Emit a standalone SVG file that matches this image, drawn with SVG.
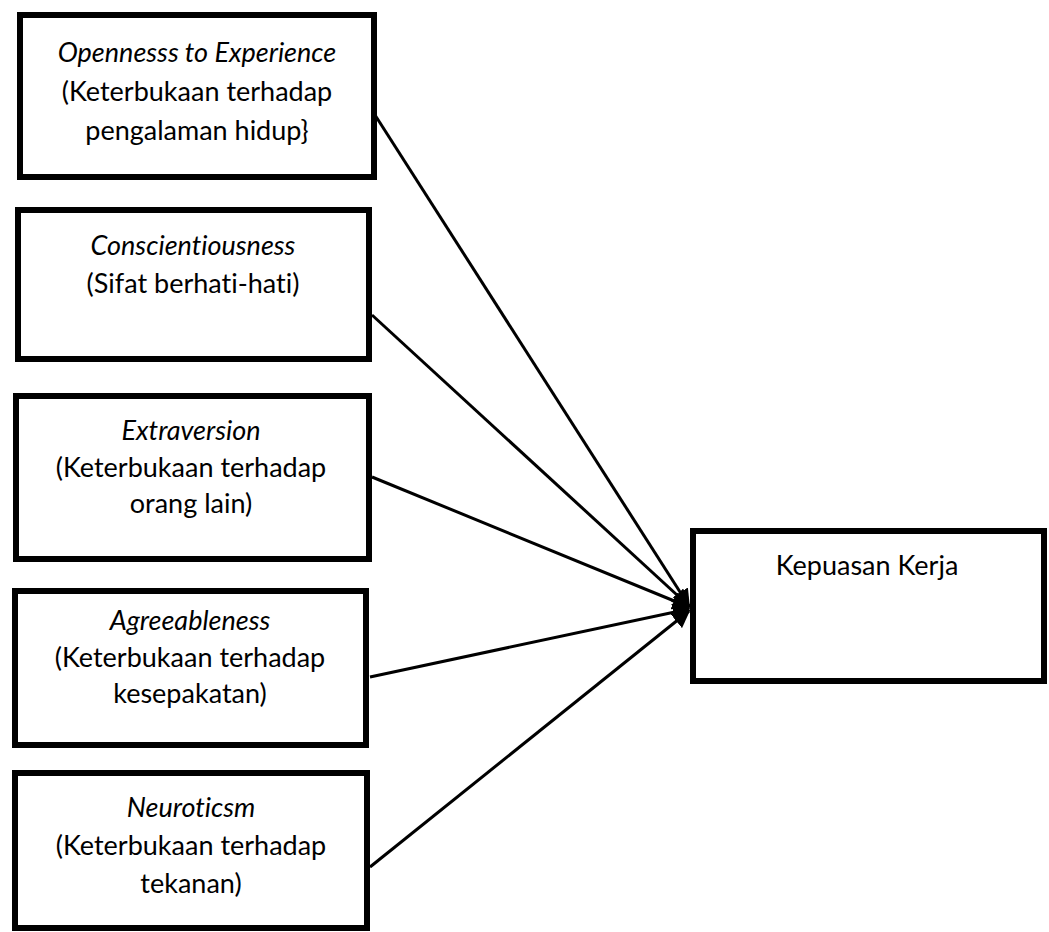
<svg xmlns="http://www.w3.org/2000/svg" width="1049" height="932" viewBox="0 0 1049 932">
<style>
.box{fill:#fff;stroke:#000;stroke-width:6}
.t{font-family:Lato,"Liberation Sans",sans-serif;font-size:27px;fill:#000;text-anchor:middle;font-variant-ligatures:none;font-feature-settings:"liga" 0}
.i{font-style:italic}
.c{stroke:#000;stroke-width:3;fill:none;marker-end:url(#ah)}
</style>
<defs>
<marker id="ah" viewBox="0 0 10 10" refX="9" refY="5" markerWidth="6" markerHeight="6" orient="auto" markerUnits="strokeWidth">
<path d="M0,0 L10,5 L0,10 z" fill="#000"/>
</marker>
</defs>
<rect width="1049" height="932" fill="#fff"/>
<g id="connectors">
<line class="c" x1="375" y1="115" x2="689" y2="606"/>
<line class="c" x1="372" y1="315" x2="689" y2="606"/>
<line class="c" x1="372" y1="477" x2="689" y2="607"/>
<line class="c" x1="370" y1="677" x2="689" y2="609"/>
<line class="c" x1="370" y1="867" x2="689" y2="611"/>
</g>
<g id="n1">
<rect class="box" x="20" y="15" width="354" height="162"/>
<text class="t i" x="197" y="62">Opennesss to Experience</text>
<text class="t" x="197" y="101">(Keterbukaan terhadap</text>
<text class="t" x="197" y="140">pengalaman hidup}</text>
</g>
<g id="n2">
<rect class="box" x="18" y="210" width="351" height="149"/>
<text class="t i" x="193" y="255">Conscientiousness</text>
<text class="t" x="193" y="293">(Sifat berhati-hati)</text>
</g>
<g id="n3">
<rect class="box" x="16" y="396" width="353" height="163"/>
<text class="t i" x="191" y="440">Extraversion</text>
<text class="t" x="191" y="477">(Keterbukaan terhadap</text>
<text class="t" x="191" y="513">orang lain)</text>
</g>
<g id="n4">
<rect class="box" x="15" y="591" width="351" height="154"/>
<text class="t i" x="190" y="630">Agreeableness</text>
<text class="t" x="190" y="667">(Keterbukaan terhadap</text>
<text class="t" x="190" y="703">kesepakatan)</text>
</g>
<g id="n5">
<rect class="box" x="15" y="773" width="352" height="155"/>
<text class="t i" x="191" y="817">Neuroticsm</text>
<text class="t" x="191" y="855">(Keterbukaan terhadap</text>
<text class="t" x="191" y="893">tekanan)</text>
</g>
<g id="n6">
<rect class="box" x="693" y="531" width="351" height="150"/>
<text class="t" x="867" y="575">Kepuasan Kerja</text>
</g>
</svg>
